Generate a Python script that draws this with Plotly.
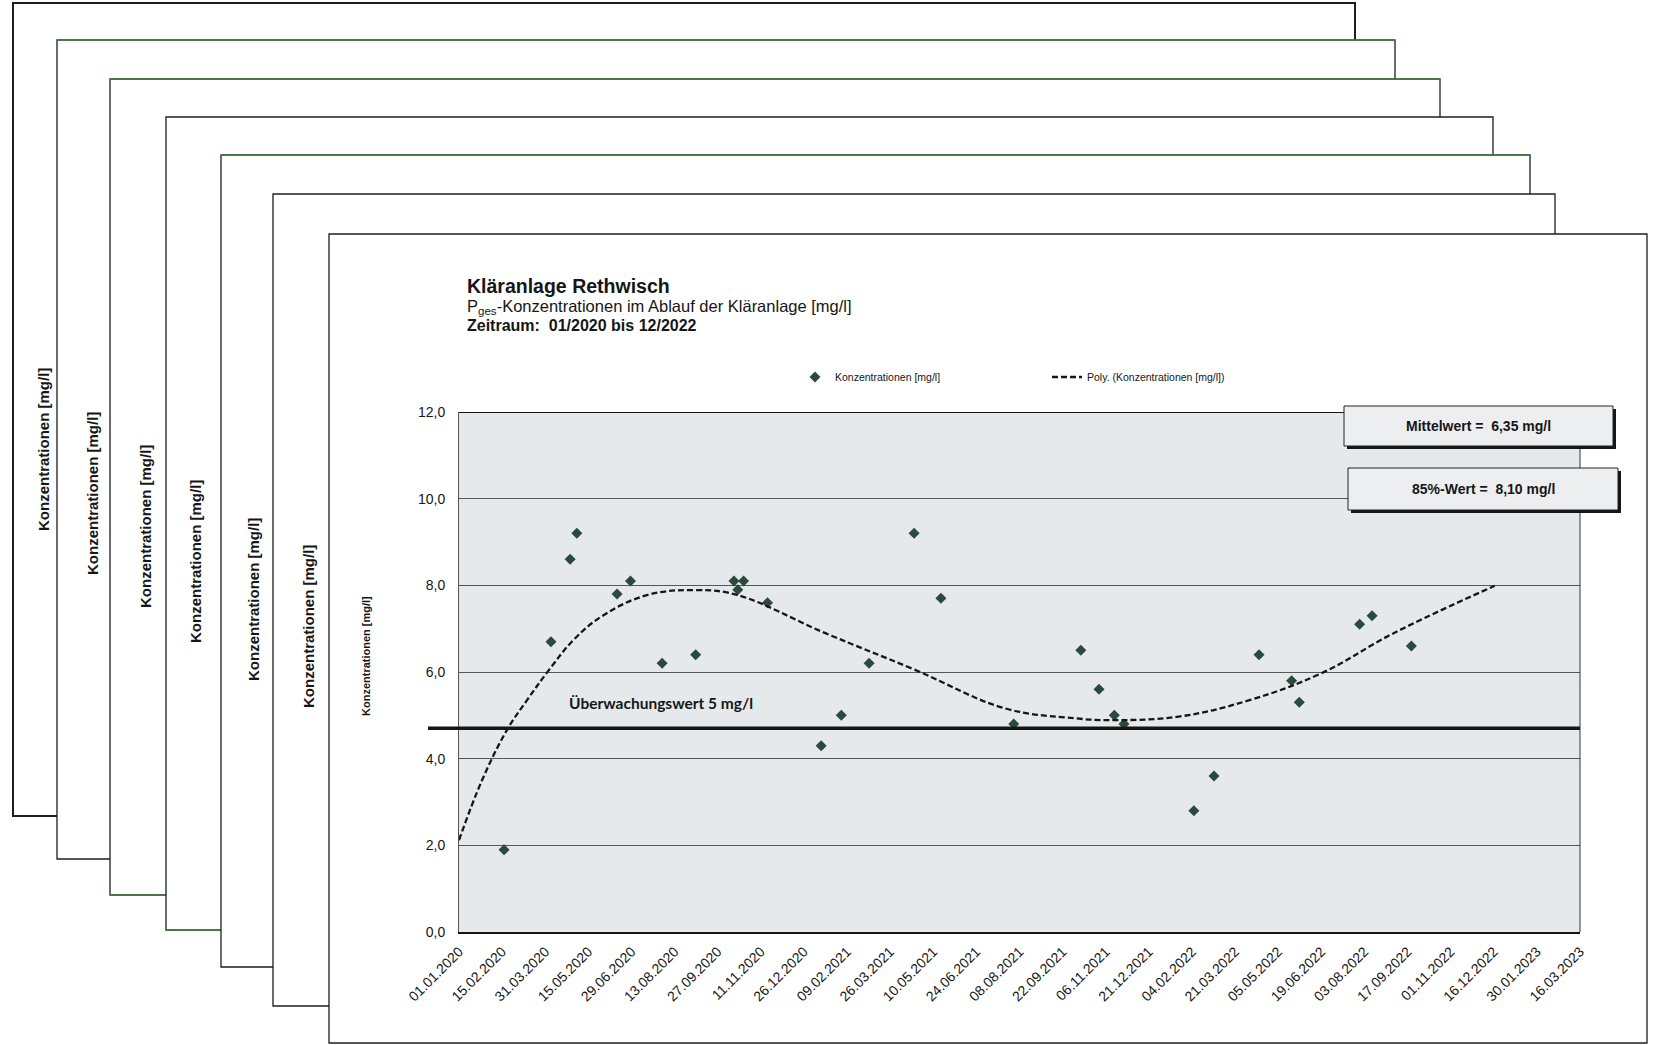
import plotly.graph_objects as go

W, H = 1655, 1045

# ---------------- data ----------------
sample_dates = [
    "2020-02-17", "2020-04-06", "2020-04-26", "2020-05-03", "2020-06-14",
    "2020-06-28", "2020-07-31", "2020-09-04", "2020-10-14", "2020-10-18",
    "2020-10-24", "2020-11-18", "2021-01-13", "2021-02-03", "2021-03-04",
    "2021-04-20", "2021-05-18", "2021-08-02", "2021-10-11", "2021-10-30",
    "2021-11-15", "2021-11-25", "2022-02-06", "2022-02-27", "2022-04-15",
    "2022-05-19", "2022-05-27", "2022-07-29", "2022-08-11", "2022-09-21",
]
concentrations = [
    1.9, 6.7, 8.6, 9.2, 7.8,
    8.1, 6.2, 6.4, 8.1, 7.9,
    8.1, 7.6, 4.3, 5.0, 6.2,
    9.2, 7.7, 4.8, 6.5, 5.6,
    5.0, 4.8, 2.8, 3.6, 6.4,
    5.8, 5.3, 7.1, 7.3, 6.6,
]

# polynomial trend line as drawn in the picture
trend_dates = [
    "2020-01-01", "2020-01-25", "2020-02-20", "2020-03-12", "2020-04-04",
    "2020-04-30", "2020-05-30", "2020-07-16", "2020-09-05", "2020-10-17",
    "2021-01-18", "2021-04-21", "2021-07-24", "2021-10-06", "2021-11-07",
    "2022-01-21", "2022-04-05", "2022-06-19", "2022-09-02", "2022-12-17",
]
trend_values = [
    2.12, 3.50, 4.66, 5.35, 6.05,
    6.75, 7.30, 7.78, 7.89, 7.78,
    6.89, 6.05, 5.16, 4.93, 4.89,
    4.97, 5.35, 5.97, 6.89, 7.99,
]

threshold_value = 4.7
mean_text = "Mittelwert =  6,35 mg/l"
p85_text = "85%-Wert =  8,10 mg/l"
threshold_text = "Überwachungswert 5 mg/l"
x_range = ["2020-01-01", "2023-03-16"]
x_tick_days = 45
y_ticks = [0, 2, 4, 6, 8, 10, 12]
axis_label = "Konzentrationen [mg/l]"

# ---------------- helpers / styling ----------------
FONT = "Liberation Sans, Arial, sans-serif"
INK = "#161616"


def fx(p):
    return p / W


def fy(p):
    return 1 - p / H


# plot area (pixels)
PL, PT, PR, PB = 459, 412, 1580, 932

# stacked pages behind: left, top, right, bottom
pages = [
    (13, 3, 1355, 816),
    (57, 40, 1395, 859),
    (110, 79, 1440, 895),
    (166, 117, 1493, 930),
    (221, 155, 1530, 967),
    (273, 194, 1555, 1006),
    (329, 234, 1647, 1043),
]
page_label_pos = [(43, 450), (93, 494), (145, 527), (195, 562), (253, 600), (308, 627)]
GREEN = "#3f8a3f"

shapes = []
for i, (l, t, r, b) in enumerate(pages):
    shapes.append(dict(type="rect", xref="paper", yref="paper",
                       x0=fx(l), x1=fx(r), y0=fy(b), y1=fy(t),
                       fillcolor="white",
                       line=dict(color="#1e1e1e", width=2 if i == 0 else 1.3),
                       layer="below"))
    if i in (1, 2, 4):
        shapes.append(dict(type="line", xref="paper", yref="paper",
                           x0=fx(l), x1=fx(r), y0=fy(t), y1=fy(t),
                           line=dict(color=GREEN, width=1.3), layer="below"))
    if i in (2, 3):
        shapes.append(dict(type="line", xref="paper", yref="paper",
                           x0=fx(l), x1=fx(pages[i + 1][0]), y0=fy(b), y1=fy(b),
                           line=dict(color=GREEN, width=1.3), layer="below"))

# plot area background
shapes.append(dict(type="rect", xref="paper", yref="paper",
                   x0=fx(PL), x1=fx(PR), y0=fy(PB), y1=fy(PT),
                   fillcolor="#e5e9ec", line=dict(width=0), layer="below"))

# top and right border of plot area
shapes.append(dict(type="line", xref="x domain", yref="y",
                   x0=0, x1=1, y0=12, y1=12,
                   line=dict(color=INK, width=2)))
shapes.append(dict(type="line", xref="x domain", yref="y domain",
                   x0=1, x1=1, y0=0, y1=1,
                   line=dict(color="#333", width=1)))

# threshold line
shapes.append(dict(type="line", xref="paper", yref="y",
                   x0=fx(428), x1=fx(PR), y0=threshold_value, y1=threshold_value,
                   line=dict(color=INK, width=3.5)))

# statistic boxes with shadow
boxes = [((1344, 406, 1613, 446), mean_text), ((1348, 468, 1618, 510), p85_text)]
annotations = []
for (l, t, r, b), txt in boxes:
    shapes.append(dict(type="rect", xref="paper", yref="paper",
                       x0=fx(l + 3), x1=fx(r + 3), y0=fy(b + 3), y1=fy(t + 3),
                       fillcolor="#151515", line=dict(width=0)))
    shapes.append(dict(type="rect", xref="paper", yref="paper",
                       x0=fx(l), x1=fx(r), y0=fy(b), y1=fy(t),
                       fillcolor="#eceef0", line=dict(color="#222", width=1)))
    annotations.append(dict(xref="paper", yref="paper", x=fx((l + r) / 2), y=fy((t + b) / 2),
                            text="<b>" + txt + "</b>", showarrow=False,
                            xanchor="center", yanchor="middle",
                            font=dict(family=FONT, size=14, color=INK)))

# page labels (rotated)
for (x, y) in page_label_pos:
    annotations.append(dict(xref="paper", yref="paper", x=fx(x), y=fy(y),
                            text="<b>" + axis_label + "</b>", textangle=-90,
                            showarrow=False, xanchor="center", yanchor="middle",
                            font=dict(family=FONT, size=15, color=INK)))
annotations.append(dict(xref="paper", yref="paper", x=fx(366), y=fy(656),
                        text="<b>" + axis_label + "</b>", textangle=-90,
                        showarrow=False, xanchor="center", yanchor="middle",
                        font=dict(family=FONT, size=11, color=INK)))

# titles
annotations += [
    dict(xref="paper", yref="paper", x=fx(465), y=fy(286), text="<b>Kläranlage Rethwisch</b>",
         showarrow=False, xanchor="left", yanchor="middle",
         font=dict(family=FONT, size=19.5, color=INK)),
    dict(xref="paper", yref="paper", x=fx(465), y=fy(307),
         text="P<sub>ges</sub>-Konzentrationen im Ablauf der Kläranlage [mg/l]",
         showarrow=False, xanchor="left", yanchor="middle",
         font=dict(family=FONT, size=16.5, color=INK)),
    dict(xref="paper", yref="paper", x=fx(465), y=fy(326), text="<b>Zeitraum:  01/2020 bis 12/2022</b>",
         showarrow=False, xanchor="left", yanchor="middle",
         font=dict(family=FONT, size=16, color=INK)),
    dict(xref="paper", yref="paper", x=fx(567), y=fy(703), text="<b>" + threshold_text + "</b>",
         showarrow=False, xanchor="left", yanchor="middle",
         font=dict(family="Lato, Carlito, sans-serif", size=15.5, color=INK)),
]

fig = go.Figure()
fig.add_trace(go.Scatter(
    x=sample_dates, y=concentrations, mode="markers",
    name="Konzentrationen [mg/l]", legend="legend",
    marker=dict(symbol="diamond", size=8.5, color="#2b4a3c"),
))
fig.add_trace(go.Scatter(
    x=trend_dates, y=trend_values, mode="lines",
    name="Poly. (Konzentrationen [mg/l])", legend="legend2",
    line=dict(color=INK, width=2.3, dash="6px,3px", shape="spline", smoothing=1.1),
))

fig.update_layout(
    width=W, height=H, autosize=False,
    margin=dict(l=0, r=0, t=0, b=0, pad=0, autoexpand=False),
    paper_bgcolor="white", plot_bgcolor="rgba(0,0,0,0)",
    separators=",.",
    font=dict(family=FONT, color=INK),
    showlegend=True,
    legend=dict(x=fx(795), y=fy(377), xanchor="left", yanchor="middle",
                bgcolor="rgba(0,0,0,0)", font=dict(family=FONT, size=10.5, color=INK)),
    legend2=dict(x=fx(1047), y=fy(377), xanchor="left", yanchor="middle",
                 bgcolor="rgba(0,0,0,0)", font=dict(family=FONT, size=10.5, color=INK)),
    xaxis=dict(
        type="date", range=x_range, domain=[fx(PL), fx(PR)], anchor="y",
        tick0=x_range[0], dtick=x_tick_days * 86400000, tickformat="%d.%m.%Y",
        tickangle=-45, tickfont=dict(family=FONT, size=14, color=INK),
        showgrid=False, zeroline=False, showline=True, linecolor=INK, linewidth=2,
        ticks="outside", ticklen=4, tickcolor="rgba(0,0,0,0)",
        automargin=False, fixedrange=True,
    ),
    yaxis=dict(
        range=[0, 12], domain=[fy(PB), fy(PT)], anchor="x",
        tickvals=y_ticks, tickformat=".1f",
        tickfont=dict(family=FONT, size=14, color=INK),
        showgrid=True, gridcolor="#4f5c54", gridwidth=1,
        zeroline=False, showline=True, linecolor="#555", linewidth=1,
        ticks="outside", ticklen=10, tickcolor="rgba(0,0,0,0)",
        automargin=False, fixedrange=True,
    ),
    shapes=shapes,
    annotations=annotations,
)

fig.write_html("out.html", config={"displayModeBar": False},
               post_script="document.body.style.margin='0';document.body.style.overflow='hidden';")
